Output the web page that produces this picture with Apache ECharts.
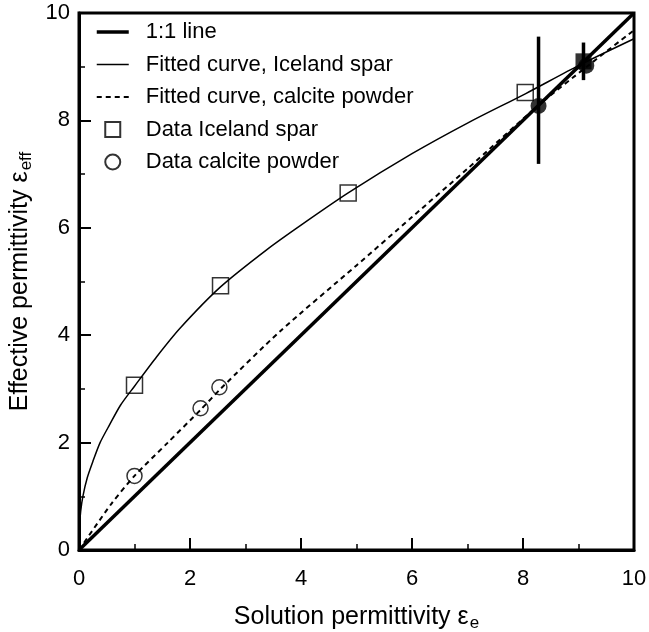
<!DOCTYPE html>
<html>
<head>
<meta charset="utf-8">
<script src="https://cdn.jsdelivr.net/npm/echarts@6/dist/echarts.min.js"></script>
<style>
  html, body { margin: 0; padding: 0; background: #fff; }
  #chart { width: 649px; height: 632px; }
</style>
</head>
<body>
<div id="chart"></div>
<script>
// values
const oneToOneX = [0, 10];
const oneToOneY = [0, 10];

const sparCurveX = [0, 0.01, 0.03, 0.07, 0.15, 0.25, 0.38, 0.55, 0.75, 1.0, 1.4, 1.82, 2.55, 3.38, 4.0, 4.85, 6.0, 7.0, 8.05, 9.0, 10];
const sparCurveY = [0, 0.45, 0.72, 1.0, 1.35, 1.65, 2.0, 2.33, 2.7, 3.05, 3.6, 4.13, 4.9, 5.59, 6.05, 6.65, 7.38, 7.95, 8.5, 9.02, 9.52];

const powderCurveX = [0, 0.59, 1.0, 1.6, 2.2, 2.55, 3.62, 5.0, 6.0, 7.0, 8.3, 9.15, 10];
const powderCurveY = [0, 0.87, 1.38, 2.0, 2.62, 3.0, 4.07, 5.3, 6.2, 7.1, 8.3, 9.0, 9.68];

const sparX = [1.0, 2.55, 4.85, 8.04];
const sparY = [3.07, 4.92, 6.65, 8.52];
const powderX = [1.0, 2.19, 2.53];
const powderY = [1.38, 2.64, 3.03];

// filled points with error bars
const sparFilledX = [9.09];
const sparFilledY = [9.1];
const sparErrLo = [8.75];
const sparErrHi = [9.45];
const powderFilledX = [8.28, 9.14];
const powderFilledY = [8.27, 9.02];
const powderErrLo = [7.19];
const powderErrHi = [9.56];

const xTicks = { min: 0, max: 10, interval: 2 };
const yTicks = { min: 0, max: 10, interval: 2 };

const zip = (xs, ys) => xs.map((x, i) => [x, ys[i]]);
const font = "'Liberation Sans', Arial, Helvetica, sans-serif";

const errorBars = [
  ...powderFilledX.slice(0, powderErrLo.length).map((x, i) => [x, powderErrLo[i], powderErrHi[i]]),
  ...sparFilledX.map((x, i) => [x, sparErrLo[i], sparErrHi[i]]),
];

const chart = echarts.init(document.getElementById("chart"), null, { renderer: "canvas" });

const axisCommon = {
  type: "value",
  axisLine: { show: true, onZero: false, lineStyle: { color: "#000", width: 3 } },
  axisTick: { show: true, inside: true, length: 12, lineStyle: { color: "#000", width: 2 } },
  minorTick: { show: true, splitNumber: 2, length: 6, lineStyle: { color: "#000", width: 1.5 } },
  splitLine: { show: false },
  minorSplitLine: { show: false },
  nameLocation: "middle",
  nameTextStyle: {
    fontFamily: font, fontSize: 25, color: "#000",
    rich: { sub: { fontFamily: font, fontSize: 17, color: "#000", verticalAlign: "bottom", padding: [12, 0, 0, 1] } },
  },
};

// legend: hide the symbol that echarts puts on line icons
const noSymbol = { opacity: 0 };

chart.setOption({
  animation: false,
  backgroundColor: "#fff",
  grid: {
    left: 79, right: 15, top: 13, bottom: 82, outerBoundsMode: "none",
    show: true, borderColor: "#000", borderWidth: 3, backgroundColor: "transparent",
  },
  legend: {
    orient: "vertical",
    left: 95,
    top: 21,
    padding: 0,
    itemWidth: 32,
    itemHeight: 15,
    itemGap: 10.5,
    symbolKeepAspect: true,
    textStyle: { fontFamily: font, fontSize: 22, color: "#000", lineHeight: 22, padding: [0, 0, 0, 12] },
    data: [
      { name: "1:1 line", itemStyle: noSymbol, lineStyle: { width: 3.5 } },
      { name: "Fitted curve, Iceland spar", itemStyle: noSymbol, lineStyle: { width: 1.5 } },
      { name: "Fitted curve, calcite powder", itemStyle: noSymbol, lineStyle: { width: 2 } },
      { name: "Data Iceland spar", icon: "path://M0,0H10V10H0Z" },
      { name: "Data calcite powder", icon: "circle" },
    ],
  },
  xAxis: {
    ...axisCommon,
    min: xTicks.min, max: xTicks.max, interval: xTicks.interval,
    name: "Solution permittivity ε{sub|e}",
    nameGap: 53,
    axisLabel: { fontFamily: font, fontSize: 22, color: "#000", margin: 18 },
  },
  yAxis: {
    ...axisCommon,
    min: yTicks.min, max: yTicks.max, interval: yTicks.interval,
    name: "Effective permittivity ε{sub|eff}",
    nameGap: 27,
    nameRotate: 90,
    axisLabel: { fontFamily: font, fontSize: 22, color: "#000", margin: 9 },
  },
  series: [
    {
      name: "1:1 line", type: "line", data: zip(oneToOneX, oneToOneY),
      symbol: "none", lineStyle: { color: "#000", width: 3.5 }, itemStyle: { color: "#000" }, z: 3,
    },
    {
      name: "Fitted curve, Iceland spar", type: "line", data: zip(sparCurveX, sparCurveY),
      symbol: "none", smooth: 0.25, lineStyle: { color: "#000", width: 1.5 }, itemStyle: { color: "#000" }, z: 2,
    },
    {
      name: "Fitted curve, calcite powder", type: "line", data: zip(powderCurveX, powderCurveY),
      symbol: "none", smooth: 0.25, lineStyle: { color: "#000", width: 2, type: [5, 4] }, itemStyle: { color: "#000" }, z: 2,
    },
    {
      name: "Data Iceland spar", type: "scatter", data: zip(sparX, sparY),
      symbol: "rect", symbolSize: 16,
      itemStyle: { color: "transparent", borderColor: "#000", borderWidth: 1.5 }, z: 4,
    },
    {
      name: "Data calcite powder", type: "scatter", data: zip(powderX, powderY),
      symbol: "circle", symbolSize: 15,
      itemStyle: { color: "transparent", borderColor: "#000", borderWidth: 1.5 }, z: 4,
    },
    {
      name: "error bars", type: "custom", data: errorBars, z: 5,
      encode: { x: 0, y: [1, 2] },
      renderItem: (params, api) => {
        const lo = api.coord([api.value(0), api.value(1)]);
        const hi = api.coord([api.value(0), api.value(2)]);
        return { type: "line", shape: { x1: lo[0], y1: lo[1], x2: hi[0], y2: hi[1] }, style: { stroke: "#000", lineWidth: 3.5 } };
      },
    },
    {
      name: "powder filled", type: "scatter", data: zip(powderFilledX, powderFilledY),
      symbol: "circle", symbolSize: 16, itemStyle: { color: "#000" }, z: 6,
    },
    {
      name: "spar filled", type: "scatter", data: zip(sparFilledX, sparFilledY),
      symbol: "rect", symbolSize: 16, itemStyle: { color: "#000" }, z: 7,
    },
  ],
});
</script>
</body>
</html>
